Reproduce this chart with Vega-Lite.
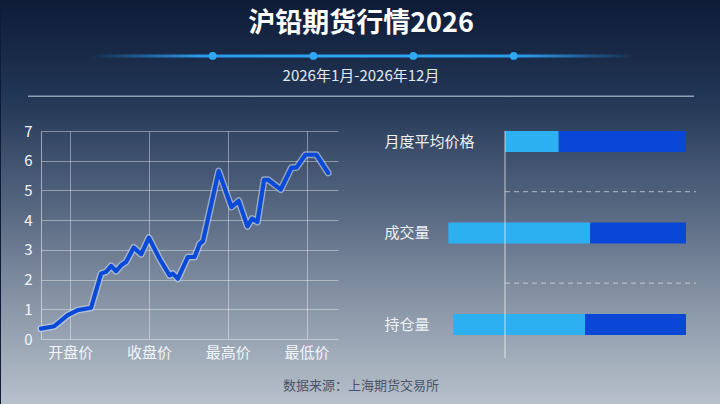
{
  "$schema": "https://vega.github.io/schema/vega-lite/v6.json",
  "padding": 0,
  "background": "#0e1c38",
  "config": {
    "font": "Noto Sans CJK SC",
    "view": {"stroke": null},
    "axis": {"labelFont": "Noto Sans CJK SC"}
  },
  "bounds": "flush",
  "spacing": 0,
  "vconcat": [
    {
      "width": 640,
      "height": 131,
      "data": {"values": [{"title": "沪铅期货行情2026", "subtitle": "2026年1月-2026年12月", "source": "数据来源：上海期货交易所"}]},
      "layer": [
        {
          "mark": {"type": "rect", "fill": {"gradient": "linear", "x1": 0, "y1": 0, "x2": 0, "y2": 1, "stops": [
            {"offset": 0, "color": "#0d1b37"},
            {"offset": 0.24, "color": "#223655"},
            {"offset": 0.5, "color": "#53647e"},
            {"offset": 0.76, "color": "#8a97a8"},
            {"offset": 1, "color": "#b7c0cb"}
          ]}},
          "encoding": {
            "x": {"datum": 0, "type": "quantitative", "scale": {"domain": [5.5556, 94.4444], "nice": false, "zero": false}, "axis": null},
            "x2": {"datum": 100},
            "y": {"datum": 0, "type": "quantitative", "scale": {"domain": [0, 32.4257], "reverse": true, "nice": false, "zero": false}, "axis": null},
            "y2": {"datum": 100}
          }
        },
        {
          "mark": {"type": "text", "fontSize": 27, "fontWeight": "bold", "fill": "#ffffff", "baseline": "middle", "align": "center"},
          "encoding": {"x": {"datum": 50, "type": "quantitative"}, "y": {"datum": 5.94, "type": "quantitative"}, "text": {"field": "title"}}
        },
        {
          "mark": {"type": "rect", "fill": {"gradient": "linear", "x1": 0, "y1": 0, "x2": 1, "y2": 0, "stops": [
            {"offset": 0, "color": "rgba(40,150,235,0)"},
            {"offset": 0.2, "color": "#2a9ae8"},
            {"offset": 0.5, "color": "#31a6f0"},
            {"offset": 0.8, "color": "#2a9ae8"},
            {"offset": 1, "color": "rgba(40,150,235,0)"}
          ]}},
          "encoding": {"x": {"datum": 12.5, "type": "quantitative"}, "x2": {"datum": 88}, "y": {"datum": 13.49, "type": "quantitative"}, "y2": {"datum": 14.23}}
        },
        {"mark": {"type": "point", "filled": true, "fill": "#2fa9f3", "size": 60, "opacity": 1}, "encoding": {"x": {"datum": 29.4, "type": "quantitative"}, "y": {"datum": 13.86, "type": "quantitative"}}},
        {"mark": {"type": "point", "filled": true, "fill": "#2fa9f3", "size": 60, "opacity": 1}, "encoding": {"x": {"datum": 43.38, "type": "quantitative"}, "y": {"datum": 13.86, "type": "quantitative"}}},
        {"mark": {"type": "point", "filled": true, "fill": "#2fa9f3", "size": 60, "opacity": 1}, "encoding": {"x": {"datum": 57.26, "type": "quantitative"}, "y": {"datum": 13.86, "type": "quantitative"}}},
        {"mark": {"type": "point", "filled": true, "fill": "#2fa9f3", "size": 60, "opacity": 1}, "encoding": {"x": {"datum": 71.21, "type": "quantitative"}, "y": {"datum": 13.86, "type": "quantitative"}}},
        {
          "mark": {"type": "text", "fontSize": 15, "fill": "#e2e8f0", "baseline": "middle", "align": "center"},
          "encoding": {"x": {"datum": 50, "type": "quantitative"}, "y": {"datum": 18.81, "type": "quantitative"}, "text": {"field": "subtitle"}}
        },
        {
          "mark": {"type": "rule", "stroke": "#a3b3ca", "strokeWidth": 1.5, "opacity": 0.85},
          "encoding": {"x": {"datum": 3.75, "type": "quantitative"}, "x2": {"datum": 96.25}, "y": {"datum": 23.85, "type": "quantitative"}}
        },
        {
          "mark": {"type": "text", "fontSize": 13, "fill": "#4a5466", "baseline": "middle", "align": "center"},
          "encoding": {"x": {"datum": 50, "type": "quantitative"}, "y": {"datum": 95.5, "type": "quantitative"}, "text": {"field": "source"}}
        }
      ]
    },
    {
      "bounds": "flush",
      "spacing": 103,
      "hconcat": [
        {
          "width": 297,
          "height": 208,
          "data": {"values": [
            {"t": 0.627, "price": 0.35}, {"t": 0.796, "price": 0.43}, {"t": 0.966, "price": 0.8}, {"t": 1.093, "price": 0.97},
            {"t": 1.263, "price": 1.05}, {"t": 1.39, "price": 2.2}, {"t": 1.454, "price": 2.26}, {"t": 1.518, "price": 2.46},
            {"t": 1.581, "price": 2.28}, {"t": 1.645, "price": 2.48}, {"t": 1.709, "price": 2.6}, {"t": 1.806, "price": 3.08},
            {"t": 1.899, "price": 2.85}, {"t": 1.997, "price": 3.41}, {"t": 2.133, "price": 2.7}, {"t": 2.26, "price": 2.14},
            {"t": 2.302, "price": 2.2}, {"t": 2.366, "price": 2.03}, {"t": 2.493, "price": 2.76}, {"t": 2.578, "price": 2.76},
            {"t": 2.642, "price": 3.2}, {"t": 2.684, "price": 3.29}, {"t": 2.884, "price": 5.65}, {"t": 3.045, "price": 4.44},
            {"t": 3.138, "price": 4.65}, {"t": 3.249, "price": 3.79}, {"t": 3.308, "price": 4.05}, {"t": 3.376, "price": 3.94},
            {"t": 3.461, "price": 5.36}, {"t": 3.512, "price": 5.36}, {"t": 3.673, "price": 5.03}, {"t": 3.809, "price": 5.77},
            {"t": 3.872, "price": 5.77}, {"t": 3.987, "price": 6.2}, {"t": 4.127, "price": 6.2}, {"t": 4.275, "price": 5.59}
          ]},
          "encoding": {
            "x": {"field": "t", "type": "quantitative", "scale": {"domain": [0.627, 4.4], "nice": false, "zero": false},
              "axis": {"values": [1, 2, 3, 4], "labelExpr": "datum.value == 1 ? '开盘价' : datum.value == 2 ? '收盘价' : datum.value == 3 ? '最高价' : '最低价'",
                "title": null, "grid": true, "gridColor": "#ffffff", "gridOpacity": 0.4, "gridWidth": 1, "domain": false, "ticks": false, "tickSize": 0,
                "labelPadding": 6, "labelFontSize": 15, "labelColor": "#f2f5f9", "labelFlush": false}},
            "y": {"field": "price", "type": "quantitative", "scale": {"domain": [0, 7], "nice": false},
              "axis": {"values": [0, 1, 2, 3, 4, 5, 6, 7], "title": null, "grid": true, "gridColor": "#ffffff", "gridOpacity": 0.4, "gridWidth": 1,
                "domain": true, "domainColor": "#ffffff", "domainOpacity": 0.5, "ticks": false, "tickSize": 0,
                "labelPadding": 9, "labelFontSize": 15, "labelColor": "#f2f5f9"}}
          },
          "layer": [
            {"mark": {"type": "line", "stroke": "#d2e2ff", "strokeWidth": 7, "opacity": 0.55, "strokeJoin": "round", "strokeCap": "round"}},
            {"mark": {"type": "line", "stroke": "#0a4ad6", "strokeWidth": 4.2, "strokeJoin": "round", "strokeCap": "round"}}
          ]
        },
        {
          "width": 240,
          "height": 227,
          "layer": [
            {
              "data": {"values": [
                {"cat": "月度平均价格", "part": "浅色段", "start": 0, "end": 29.7},
                {"cat": "月度平均价格", "part": "深色段", "start": 29.7, "end": 100},
                {"cat": "成交量", "part": "浅色段", "start": -31.3, "end": 47.0},
                {"cat": "成交量", "part": "深色段", "start": 47.0, "end": 100},
                {"cat": "持仓量", "part": "浅色段", "start": -28.6, "end": 44.2},
                {"cat": "持仓量", "part": "深色段", "start": 44.2, "end": 100}
              ]},
              "mark": {"type": "bar"},
              "encoding": {
                "x": {"field": "start", "type": "quantitative", "scale": {"domain": [-35.36, 97.24], "nice": false, "zero": false}, "axis": null},
                "x2": {"field": "end"},
                "y": {"field": "cat", "type": "nominal",
                  "scale": {"domain": ["月度平均价格", "成交量", "持仓量"], "paddingInner": 0.77, "paddingOuter": 0.1255, "align": 0},
                  "axis": {"title": null, "domain": false, "ticks": false, "tickSize": 0, "grid": false, "labelAlign": "left", "labelPadding": 57,
                    "labelFontSize": 15, "labelColor": "#eef2f7", "labelLimit": 200}},
                "color": {"field": "part", "type": "nominal", "scale": {"domain": ["浅色段", "深色段"], "range": ["#2db0f1", "#0a47d6"]}, "legend": null}
              }
            },
            {
              "data": {"values": [{"cat": "月度平均价格"}, {"cat": "成交量"}]},
              "mark": {"type": "rule", "stroke": "#ffffff", "strokeWidth": 1.2, "opacity": 0.45, "strokeDash": [5, 4]},
              "encoding": {
                "x": {"datum": 0, "type": "quantitative"},
                "x2": {"datum": 105.5},
                "y": {"field": "cat", "type": "nominal", "bandPosition": 2.88}
              }
            },
            {
              "data": {"values": [{"cat": "零线"}]},
              "mark": {"type": "rule", "stroke": "#ffffff", "strokeWidth": 1.5, "opacity": 0.45},
              "encoding": {
                "x": {"datum": 0, "type": "quantitative"}
              }
            }
          ]
        }
      ]
    }
  ]
}
